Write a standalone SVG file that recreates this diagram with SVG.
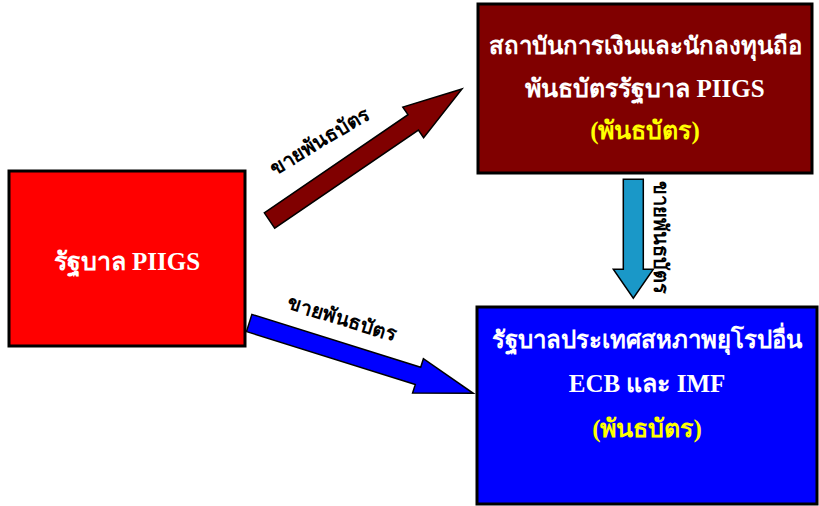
<svg xmlns="http://www.w3.org/2000/svg" width="819" height="506" viewBox="0 0 819 506">
<style>
.box{stroke:#000;stroke-width:3}
.t{font-family:"Liberation Serif",serif;font-weight:bold;font-size:25px;text-anchor:middle;fill:#fff}
.s{font-size:24px}
.y{fill:#ffff00}
.lbl{font-family:"Liberation Serif",serif;font-weight:bold;font-size:20px;text-anchor:middle;fill:#000}
.arr{stroke:#000;stroke-width:1.5;stroke-linejoin:miter}
</style>
<rect width="819" height="506" fill="#fff"/>
<g id="connectors">
<polygon class="arr" fill="#800000" points="264.3,212.8 408,114.7 402.8,107.1 462,89 423.6,137.7 418.4,130.1 274.7,228.2"/>
<polygon class="arr" fill="#0000ff" points="251.9,314.4 420.7,367.3 423.4,358.7 473.3,393.3 412.6,393.1 415.3,384.5 246.5,331.6"/>
<polygon class="arr" fill="#1a98c8" points="623.3,179.3 643.3,179.3 643.3,269.3 653.3,269.3 633.3,298.3 613.3,269.3 623.3,269.3"/>
<text class="lbl" transform="translate(323,147) rotate(-31)">ขายพันธบัตร</text>
<text class="lbl" transform="translate(340,325) rotate(17)">ขายพันธบัตร</text>
<text class="lbl" transform="translate(654,237) rotate(90)">ขายพันธบัตร</text>
</g>
<g id="piigs">
<rect class="box" x="9" y="171" width="236" height="175" fill="#ff0000"/>
<text class="t" x="127" y="270">รัฐบาล PIIGS</text>
</g>
<g id="investors">
<rect class="box" x="478" y="4" width="334" height="169" fill="#800000"/>
<text class="t s" x="645" y="54">สถาบันการเงินและนักลงทุนถือ</text>
<text class="t" x="645" y="97">พันธบัตรรัฐบาล PIIGS</text>
<text class="t y" x="645" y="139">(พันธบัตร)</text>
</g>
<g id="eu">
<rect class="box" x="477" y="307" width="340" height="197" fill="#0000ff"/>
<text class="t s" x="647" y="348">รัฐบาลประเทศสหภาพยุโรปอื่น</text>
<text class="t" x="647" y="392">ECB และ IMF</text>
<text class="t y" x="647" y="437">(พันธบัตร)</text>
</g>
</svg>
